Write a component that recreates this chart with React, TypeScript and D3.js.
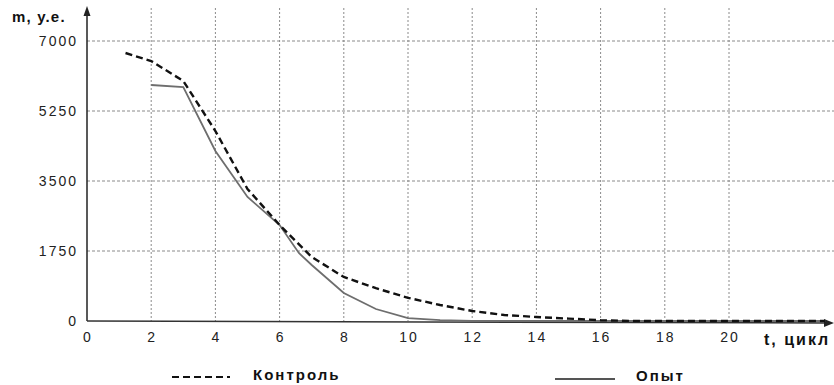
import React, { useRef, useEffect } from "react";
import * as d3 from "d3";

// Data
const controlT = [1.2, 2, 3, 4, 5, 6, 7, 8, 9, 10, 11, 12, 13, 14, 15, 16, 17, 20, 23];
const controlM = [6700, 6500, 6000, 4750, 3300, 2400, 1600, 1100, 820, 580, 400, 250, 150, 100, 60, 20, 0, 0, 0];

const opytT = [2, 3, 4, 5, 6, 6.6, 7, 8, 9, 10, 11, 12, 15, 20, 23];
const opytM = [5900, 5850, 4250, 3100, 2400, 1700, 1400, 700, 300, 70, 20, 0, 0, 0, 0];

const xTicks = [0, 2, 4, 6, 8, 10, 12, 14, 16, 18, 20];
const yTicks = [0, 1750, 3500, 5250, 7000];

export default function App() {
  const ref = useRef<SVGSVGElement>(null);

  useEffect(() => {
    const width = 834;
    const height = 385;
    const svg = d3.select(ref.current);
    svg.selectAll("*").remove();

    const x = d3.scaleLinear().domain([0, 20]).range([87, 729]);
    const y = d3.scaleLinear().domain([0, 7000]).range([321, 41]);
    const font = "'Liberation Sans', Arial, sans-serif";

    // grid
    svg
      .append("g")
      .selectAll("line")
      .data(xTicks.filter((t) => t > 0))
      .join("line")
      .attr("x1", (d) => x(d))
      .attr("x2", (d) => x(d))
      .attr("y1", 8)
      .attr("y2", y(0))
      .attr("stroke", "#8a8a8a")
      .attr("stroke-width", 1)
      .attr("stroke-dasharray", "2,2");

    svg
      .append("g")
      .selectAll("line")
      .data(yTicks.filter((t) => t > 0))
      .join("line")
      .attr("x1", x(0))
      .attr("x2", 834)
      .attr("y1", (d) => y(d))
      .attr("y2", (d) => y(d))
      .attr("stroke", "#8a8a8a")
      .attr("stroke-width", 1)
      .attr("stroke-dasharray", "3,2");

    // axes
    svg
      .append("line")
      .attr("x1", x(0))
      .attr("x2", x(0))
      .attr("y1", y(0))
      .attr("y2", 12)
      .attr("stroke", "#222")
      .attr("stroke-width", 1.5);
    svg
      .append("path")
      .attr("d", `M${x(0) - 3.5},16 L${x(0)},6 L${x(0) + 3.5},16 Z`)
      .attr("fill", "#222");

    svg
      .append("line")
      .attr("x1", x(0))
      .attr("x2", 826)
      .attr("y1", y(0))
      .attr("y2", y(0) + 2)
      .attr("stroke", "#333")
      .attr("stroke-width", 1.5);
    svg
      .append("path")
      .attr("d", `M824,${y(0) - 2} L834,${y(0) + 2} L824,${y(0) + 6} Z`)
      .attr("fill", "#222");

    // tick labels
    svg
      .append("g")
      .selectAll("text")
      .data(yTicks)
      .join("text")
      .attr("x", 78)
      .attr("y", (d) => y(d) + 5)
      .attr("text-anchor", "end")
      .attr("font-family", font)
      .attr("font-size", 14)
      .attr("letter-spacing", 2)
      .attr("fill", "#222")
      .text((d) => d);

    svg
      .append("g")
      .selectAll("text")
      .data(xTicks)
      .join("text")
      .attr("x", (d) => x(d) + 1)
      .attr("y", 342)
      .attr("text-anchor", "middle")
      .attr("font-family", font)
      .attr("font-size", 14)
      .attr("letter-spacing", 2)
      .attr("fill", "#222")
      .text((d) => d);

    // axis titles
    svg
      .append("text")
      .attr("x", 12)
      .attr("y", 22)
      .attr("font-family", font)
      .attr("font-size", 15)
      .attr("font-weight", "bold")
      .attr("letter-spacing", 1.2)
      .attr("fill", "#111")
      .text("m, у.е.");

    svg
      .append("text")
      .attr("x", 764)
      .attr("y", 345)
      .attr("font-family", font)
      .attr("font-size", 16)
      .attr("font-weight", "bold")
      .attr("letter-spacing", 2)
      .attr("fill", "#111")
      .text("t, цикл");

    // lines
    const line = d3
      .line<[number, number]>()
      .x((d) => x(d[0]))
      .y((d) => y(d[1]));

    const opyt = opytT.map((t, i) => [t, opytM[i]] as [number, number]);
    const control = controlT.map((t, i) => [t, controlM[i]] as [number, number]);

    svg
      .append("path")
      .datum(opyt)
      .attr("fill", "none")
      .attr("stroke", "#6e6e6e")
      .attr("stroke-width", 1.8)
      .attr("d", line);

    svg
      .append("path")
      .datum(control)
      .attr("fill", "none")
      .attr("stroke", "#111")
      .attr("stroke-width", 2.4)
      .attr("stroke-dasharray", "7,4")
      .attr("d", line);

    // legend
    svg
      .append("line")
      .attr("x1", 172)
      .attr("x2", 230)
      .attr("y1", 377)
      .attr("y2", 377)
      .attr("stroke", "#111")
      .attr("stroke-width", 2)
      .attr("stroke-dasharray", "7,4");
    svg
      .append("text")
      .attr("x", 253)
      .attr("y", 380)
      .attr("font-family", font)
      .attr("font-size", 15)
      .attr("font-weight", "bold")
      .attr("letter-spacing", 2)
      .attr("fill", "#111")
      .text("Контроль");

    svg
      .append("line")
      .attr("x1", 555)
      .attr("x2", 615)
      .attr("y1", 379)
      .attr("y2", 379)
      .attr("stroke", "#555")
      .attr("stroke-width", 1.8);
    svg
      .append("text")
      .attr("x", 636)
      .attr("y", 381)
      .attr("font-family", font)
      .attr("font-size", 15)
      .attr("font-weight", "bold")
      .attr("letter-spacing", 2)
      .attr("fill", "#111")
      .text("Опыт");

    svg.attr("width", width).attr("height", height);
  }, []);

  return (
    <svg
      ref={ref}
      width={834}
      height={385}
      style={{ position: "absolute", left: 0, top: 0, background: "#fff" }}
    />
  );
}
